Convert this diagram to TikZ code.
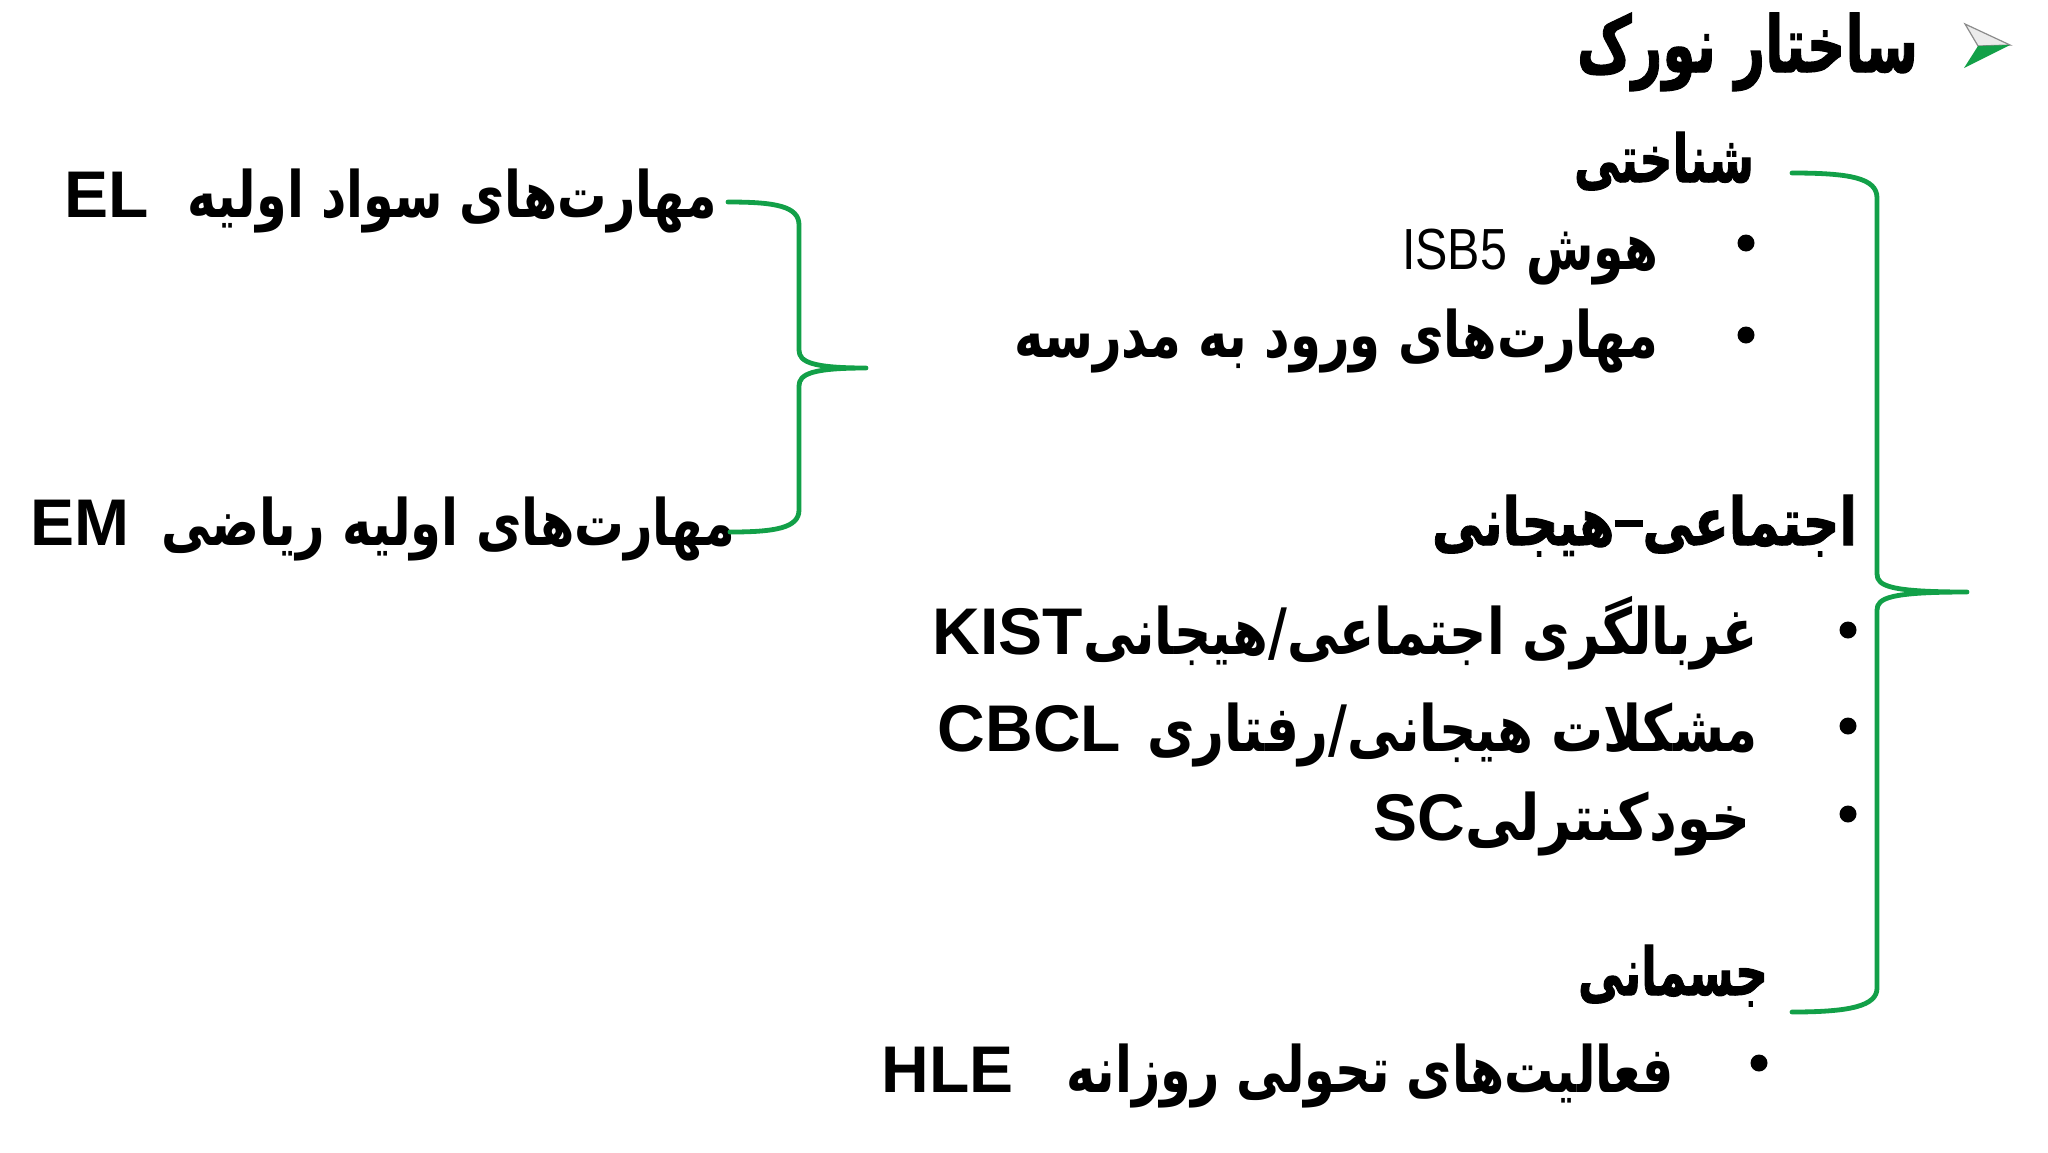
\documentclass[tikz,border=0pt]{standalone}
\usepackage{fontspec}
\usepackage{graphicx}
\TeXXeTstate=1
\setmainfont{Liberation Sans}
\newfontfamily\arabicheavy[Script=Arabic,FakeBold=1.6]{DejaVu Sans Bold}
\newfontfamily\arabicmid[Script=Arabic]{DejaVu Sans Bold}
\newfontfamily\latinfont{Liberation Sans}
\definecolor{bracegreen}{RGB}{18,160,72}
\newcommand\la[1]{{\latinfont\bfseries\fontsize{33pt}{38pt}\selectfont #1}}
\newcommand\fitbox[2]{\resizebox{#1}{\height}{#2}}
\newcommand\titlesize{\fontsize{39pt}{44pt}\selectfont}
\newcommand\headsize{\fontsize{33pt}{40pt}\selectfont}
\newcommand\bodysize{\fontsize{32pt}{38pt}\selectfont}
% Arabic run squeezed to a width (the run itself carries \beginR ... \endR)
\newcommand\ar[2]{\fitbox{#1}{\hbox{\arabicmid\bodysize #2}}}
\newcommand\arh[2]{\fitbox{#1}{\hbox{\arabicheavy\headsize #2}}}
\newcommand\ardash{\raisebox{0.28em}{\rule{0.55em}{0.1em}}}
\begin{document}
\begin{tikzpicture}[x=0.5pt,y=-0.5pt,
  txt/.style={anchor=base east, inner sep=0pt, outer sep=0pt},
  brace/.style={draw=bracegreen, line width=2.4pt, line cap=round, line join=round},
  dotbul/.style={circle, fill=black, inner sep=0pt, minimum size=8.5pt}]
\fill[white] (0,0) rectangle (2048,1152);
\useasboundingbox (0,0) rectangle (2048,1152);

% title marker
\filldraw[fill=black!8, draw=black!45, line width=0.6pt] (1965,24) -- (2010,45) -- (1978,46) -- cycle;
\fill[bracegreen] (1978,46) -- (2010,45) -- (1964,68) -- cycle;

% title
\node[txt] (title) at (1918,72) {\fitbox{170.5pt}{\hbox{\arabicheavy\titlesize\beginR ساختار نورک\endR}}};

% cognitive
\node[txt] (h1) at (1754,182) {\arh{90pt}{\beginR شناختی\endR}};
\node[dotbul] (b1) at (1746,243) {};
\node[txt] (i1) at (1658,269) {\hbox{\fitbox{52.5pt}{\hbox{\latinfont\fontsize{29pt}{34pt}\selectfont ISB5}}\hspace{9.5pt}\ar{66pt}{\beginR هوش\endR}}};
\node[dotbul] (b2) at (1746,335) {};
\node[txt] (i2) at (1658,357) {\ar{322pt}{\beginR مهارت‌های ورود به مدرسه\endR}};

% socio-emotional
\node[txt] (h2) at (1857,545) {\arh{212.5pt}{\beginR اجتماعی\ardash هیجانی\endR}};
\node[dotbul] (b3) at (1848,630) {};
\node[txt] (i3) at (1758,654) {\hbox{\la{KIST}\ar{337.5pt}{\beginR غربالگری اجتماعی/هیجانی\endR}}};
\node[dotbul] (b4) at (1848,726) {};
\node[txt] (i4) at (1758,751) {\hbox{\la{CBCL}\hspace{13pt}\ar{305.5pt}{\beginR مشکلات هیجانی/رفتاری\endR}}};
\node[dotbul] (b5) at (1848,814) {};
\node[txt] (i5) at (1750,840) {\hbox{\la{SC}\ar{142.5pt}{\beginR خودکنترلی\endR}}};

% physical
\node[txt] (h3) at (1768,995) {\arh{95pt}{\beginR جسمانی\endR}};
\node[dotbul] (b6) at (1759,1063) {};
\node[txt] (i6) at (1674,1092) {\hbox{\la{HLE}\hspace{26.5pt}\ar{303.5pt}{\beginR فعالیت‌های تحولی روزانه\endR}}};

% left items
\node[txt] (el) at (717,217) {\hbox{\la{EL}\hspace{19.5pt}\ar{264.5pt}{\beginR مهارت‌های سواد اولیه\endR}}};
\node[txt] (em) at (735,545) {\hbox{\la{EM}\hspace{16pt}\ar{287pt}{\beginR مهارت‌های اولیه ریاضی\endR}}};

% left brace
\coordinate (LT) at (728,202);
\coordinate (LM) at (866,368);
\coordinate (LB) at (730,532);
\draw[brace] (LT) .. controls (775,202) and (799,206) .. (799,225) -- (799,350)
  .. controls (799,362) and (812,368) .. (LM)
  .. controls (812,368) and (799,374) .. (799,386) -- (799,510)
  .. controls (799,528) and (775,532) .. (LB);

% right brace
\coordinate (RT) at (1792,173);
\coordinate (RM) at (1967,592);
\coordinate (RB) at (1792,1012);
\draw[brace] (RT) .. controls (1850,173) and (1877,178) .. (1877,198) -- (1877,574)
  .. controls (1877,586) and (1890,592) .. (RM)
  .. controls (1890,592) and (1877,598) .. (1877,610) -- (1877,988)
  .. controls (1877,1006) and (1850,1012) .. (RB);
\end{tikzpicture}
\end{document}
